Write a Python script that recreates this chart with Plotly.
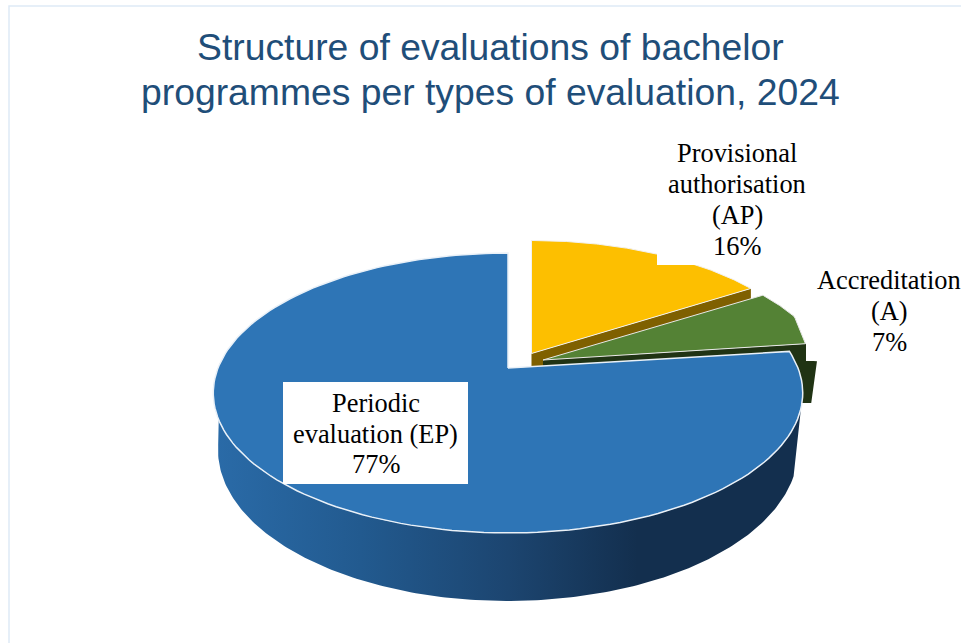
import numpy as np
import plotly.graph_objects as go

# --- data
categories = [["Provisional", "authorisation", "(AP)"], ["Accreditation", "(A)"], ["Periodic", "evaluation (EP)"]]
values = [16, 7, 77]
title_lines = ["Structure of evaluations of bachelor", "programmes per types of evaluation, 2024"]

# --- styles and projection of the tilted pie
top_colors = ["#FDBF00", "#548235", "#2E75B6"]
side_colors = ["#7F6000", "#203314"]
TITLE = "#1F4E79"
APEX = (508.0, 368.0)
A, B, K = 290.0, 135.5, 0.1786
offsets = [(23.5, -14.5), (35, -8), (0, 0)]
radii = [0.98, 0.98, 1.0]
DEPTH = 68


def project(theta_deg, r=1.0, off=(0, 0)):
    t = np.radians(theta_deg)
    u, v = r * np.sin(t), r * np.cos(t)
    w = 1 + K * v
    return APEX[0] + off[0] + A * u / w, APEX[1] + off[1] - B * v / w


def sector(i):
    start = sum(values[:i]) * 3.6
    end = start + values[i] * 3.6
    th = np.linspace(start, end, 160)
    x, y = project(th, radii[i], offsets[i])
    ax, ay = APEX[0] + offsets[i][0], APEX[1] + offsets[i][1]
    return np.r_[ax, x, ax], np.r_[ay, y, ay], start, end


def clip_green_top(x, y):
    return np.minimum(x, 795 + (np.maximum(y, 318) - 318) * 11 / 27), y


def clip_green_side(x, y):
    lim = np.where(y < 361, 806, 817 - (y - 361) * 5 / 42)
    return np.minimum(x, lim), np.minimum(y, 403)


fig = go.Figure()


def poly(x, y, color, line=None, width=0, **kw):
    fig.add_trace(go.Scatter(x=x, y=y, mode="lines", fill="toself", fillcolor=color,
                             line=dict(color=line or color, width=width),
                             hoverinfo="skip", showlegend=False, **kw))


# outer wall of the main slice
th = np.linspace(100, 272, 200)
tx, ty = project(th)
phi = np.radians(np.linspace(272, 100, 200))
bx = APEX[0] + 290 * np.sin(phi)
by = 450 - 151 * np.cos(phi)
fig.add_trace(go.Scatter(
    x=np.r_[tx, bx, tx[0]], y=np.r_[ty, by, ty[0]], mode="lines", fill="toself",
    line=dict(width=0, color="rgba(0,0,0,0)"), hoverinfo="skip", showlegend=False,
    fillgradient=dict(type="horizontal", colorscale=[
        [0, "#2A6BA8"], [0.25, "#225A8F"], [0.5, "#1C4570"], [0.72, "#132F4E"], [1, "#132F4E"]])))

# yellow slice: side then top
x, y, *_ = sector(0)
ex, ey = project(sum(values[:1]) * 3.6, radii[0], offsets[0])
ax, ay = APEX[0] + offsets[0][0], APEX[1] + offsets[0][1]
poly([ax, ex, ex, ax, ax], [ay, ey, ey + 30, ay + 30, ay], side_colors[0])
poly(x, y, top_colors[0], "#F2F2F2", 1)

# green slice: side then top
x, y, s, e = sector(1)
ex, ey = project(e, radii[1], offsets[1])
ax, ay = APEX[0] + offsets[1][0], APEX[1] + offsets[1][1]
down = np.linspace(ey, ey + DEPTH, 90)
sx = np.r_[ax, np.full(90, ex), ax, ax]
sy = np.r_[ay, down, ay + DEPTH, ay]
sx, sy = clip_green_side(sx, sy)
poly(sx, sy, side_colors[1])
gx, gy = clip_green_top(x, y)
poly(gx, gy, top_colors[1], "#E8E8E8", 1)

# main slice top
x, y, *_ = sector(2)
poly(x, y, top_colors[2], "#EAF1F8", 1.5)

# white label boxes as in the original
boxes = [(657, 137, 817, 265), (806, 262, 972, 361), (283, 382, 468, 484)]
for x0, y0, x1, y1 in boxes:
    fig.add_shape(type="rect", x0=x0, y0=y0, x1=x1, y1=y1, fillcolor="white",
                  line=dict(width=0), layer="above")

# label text, line by line
label_x = [737, 889, 375.5]
label_y = [[153, 184, 215, 246], [280, 311, 342], [403, 434, 464]]
for i, (cat, v) in enumerate(zip(categories, values)):
    for line, ly in zip(cat + [f"{v}%"], label_y[i]):
        fig.add_annotation(x=label_x[i], y=ly, text=line, showarrow=False,
                           font=dict(family="Liberation Serif", size=26.4, color="black"))

for line, ly in zip(title_lines, [47, 92]):
    fig.add_annotation(x=490.5, y=ly, text=line, showarrow=False,
                       font=dict(family="Liberation Sans", size=37.3, color=TITLE))

# frame of the chart area
fig.add_shape(type="rect", x0=9, y0=6, x1=1000, y1=700, line=dict(color="#DEEAF6", width=1.5),
              layer="below")

fig.update_layout(width=961, height=643, margin=dict(l=0, r=0, t=0, b=0),
                  paper_bgcolor="white", plot_bgcolor="white", showlegend=False,
                  xaxis=dict(range=[0, 961], visible=False, fixedrange=True),
                  yaxis=dict(range=[643, 0], visible=False, fixedrange=True))
fig.write_html("out.html", config=dict(displayModeBar=False),
               post_script="document.body.style.margin='0';document.body.style.overflow='hidden';")
